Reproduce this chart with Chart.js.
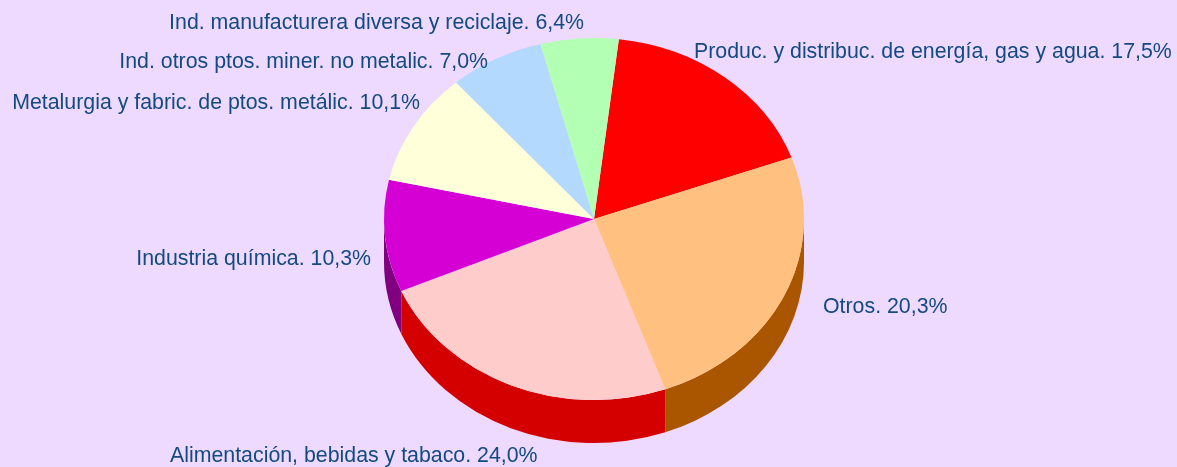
<!DOCTYPE html>
<html>
<head>
<meta charset="utf-8">
<title>Pie</title>
<script src="https://cdn.jsdelivr.net/npm/chart.js@4"></script>
<style>
  html, body { margin: 0; padding: 0; background: #eed9ff; }
  #wrap { width: 1177px; height: 467px; position: relative; }
</style>
</head>
<body>
<div id="wrap"><canvas id="pie"></canvas></div>
<script>
// DATA //

const categories = [
    "Produc. y distribuc. de energía, gas y agua",
    "Otros",
    "Alimentación, bebidas y tabaco",
    "Industria química",
    "Metalurgia y fabric. de ptos. metálic",
    "Ind. otros ptos. miner. no metalic",
    "Ind. manufacturera diversa y reciclaje"
];
// size of each slice as drawn in the picture (the printed numbers don't quite agree with it)
const sliceValues = [17.6, 25.0, 24.0, 10.0, 10.1, 7.3, 6.0];
// percentage as printed next to each slice
const printedValues = ["17,5%", "20,3%", "24,0%", "10,3%", "10,1%", "7,0%", "6,4%"];

const topColors = ['#ff0000', '#ffc080', '#ffcccc', '#d400d4', '#ffffd9', '#b3d9ff', '#b3ffb3'];
const wallColors = ['#aa0000', '#aa5500', '#d40000', '#800080', '#aaaa90', '#7790aa', '#77aa77'];

// PIE LAYOUT //

const squash = 181 / 210;
const depth = 43;
const labelSpots = [
    { x: 694, y: 58, align: 'left' },
    { x: 823, y: 313, align: 'left' },
    { x: 170, y: 462, align: 'left' },
    { x: 371, y: 265, align: 'right' },
    { x: 420, y: 109, align: 'right' },
    { x: 488, y: 68, align: 'right' },
    { x: 584, y: 29, align: 'right' }
];

// Side wall is painted first, then the top face gets squashed into an ellipse

const pie3d = {
    id: 'pie3d',
    beforeDatasetDraw(chart, args) {
        const ctx = chart.ctx;
        const arcs = args.meta.data;
        const cx = arcs[0].x;
        const cy = arcs[0].y;
        const rx = arcs[0].outerRadius;
        const ry = rx * squash;

        arcs.forEach((arc, i) => {
            // only the front half of the pie shows a wall
            const from = Math.max(arc.startAngle, 0);
            const to = Math.min(arc.endAngle, Math.PI);
            if (to <= from) return;
            ctx.save();
            ctx.fillStyle = wallColors[i];
            ctx.beginPath();
            ctx.ellipse(cx, cy + depth, rx, ry, 0, from, to);
            ctx.ellipse(cx, cy, rx, ry, 0, to, from, true);
            ctx.closePath();
            ctx.fill();
            ctx.restore();
        });

        ctx.save();
        ctx.translate(0, cy);
        ctx.scale(1, squash);
        ctx.translate(0, -cy);
    },
    afterDatasetDraw(chart) {
        chart.ctx.restore();
    },
    afterDraw(chart) {
        const ctx = chart.ctx;
        ctx.save();
        ctx.font = '21.33px "Liberation Sans", Arial, sans-serif';
        ctx.fillStyle = '#134a82';
        ctx.textBaseline = 'alphabetic';
        categories.forEach((name, i) => {
            ctx.textAlign = labelSpots[i].align;
            ctx.fillText(name + '. ' + printedValues[i], labelSpots[i].x, labelSpots[i].y);
        });
        ctx.restore();
    }
};

// CHART //

new Chart(document.getElementById('pie'), {
    type: 'pie',
    data: {
        labels: categories,
        datasets: [{
            data: sliceValues,
            backgroundColor: topColors,
            borderWidth: 0
        }]
    },
    options: {
        responsive: true,
        maintainAspectRatio: false,
        animation: false,
        rotation: 6.8,
        layout: {
            padding: { left: 384, right: 373, top: 9, bottom: 38 }
        },
        plugins: {
            legend: { display: false },
            tooltip: { enabled: false }
        }
    },
    plugins: [pie3d]
});
</script>
</body>
</html>
